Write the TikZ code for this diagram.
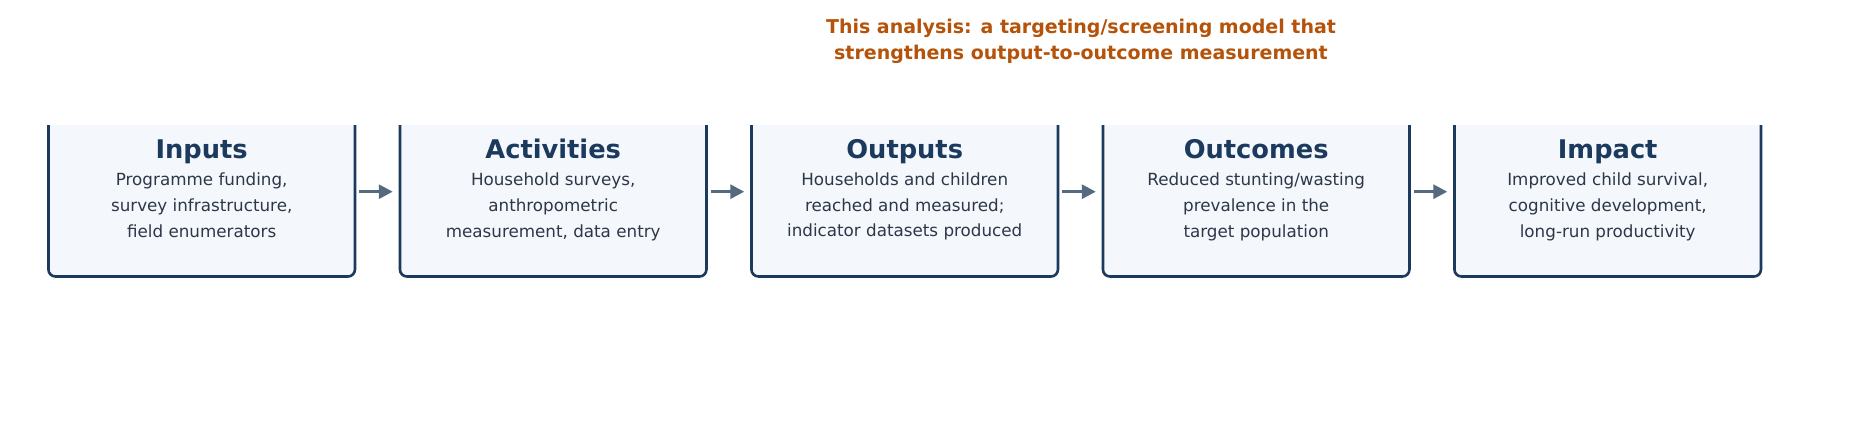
\documentclass[tikz,border=0pt]{standalone}
\usepackage{fontspec}
\setmainfont{DejaVu Sans}
\usetikzlibrary{arrows.meta,calc}
\definecolor{boxfill}{HTML}{F4F7FB}
\definecolor{boxline}{HTML}{1C3A5E}
\definecolor{headc}{HTML}{1C3A5E}
\definecolor{bodyc}{HTML}{2D3748}
\definecolor{arrc}{HTML}{546A80}
\definecolor{titlec}{HTML}{B45309}
\begin{document}
\begin{tikzpicture}[x=1pt,y=-1pt,
 stagebox/.style={draw=boxline, fill=boxfill, line width=2.6pt, rounded corners=7pt,
   minimum width=306.5pt, minimum height=169.6pt, inner sep=0pt, outer sep=0pt},
 headtxt/.style={anchor=base, inner sep=0pt, text=headc, font=\fontsize{25.7}{30}\selectfont\bfseries},
 bodytxt/.style={anchor=base, inner sep=0pt, text=bodyc, font=\fontsize{16.75}{20}\selectfont},
 titletxt/.style={anchor=base, inner sep=0pt, text=titlec, font=\fontsize{19}{23}\selectfont\bfseries},
 flow/.style={draw=arrc, line width=3pt, -{Triangle[length=14pt,width=14pt]}}]
\useasboundingbox[fill=white] (0,0) rectangle (1860,446);

\node[titletxt] (t1) at (1081,33.3) {This analysis: a targeting/screening model that};
\node[titletxt] (t2) at (1081,60) {strengthens output-to-outcome measurement};

\begin{scope}
\clip (0,126) rectangle (1860,446);
\node[stagebox] (b1) at (201.7,191.7) {};
\node[stagebox] (b2) at (553.2,191.7) {};
\node[stagebox] (b3) at (904.7,191.7) {};
\node[stagebox] (b4) at (1256.2,191.7) {};
\node[stagebox] (b5) at (1607.7,191.7) {};
\end{scope}

% Inputs
\node[headtxt] (h1) at ([yshift=118.2pt]b1.south) {Inputs};
\node[bodytxt] (p1a) at ([yshift=90.8pt]b1.south) {Programme funding,};
\node[bodytxt] (p1b) at ([yshift=65pt]b1.south) {survey infrastructure,};
\node[bodytxt] (p1c) at ([yshift=39pt]b1.south) {field enumerators};
% Activities
\node[headtxt] (h2) at ([yshift=118.2pt]b2.south) {Activities};
\node[bodytxt] (p2a) at ([yshift=90.8pt]b2.south) {Household surveys,};
\node[bodytxt] (p2b) at ([yshift=65pt]b2.south) {anthropometric};
\node[bodytxt] (p2c) at ([yshift=39pt]b2.south) {measurement, data entry};
% Outputs
\node[headtxt] (h3) at ([yshift=118.2pt]b3.south) {Outputs};
\node[bodytxt] (p3a) at ([yshift=90.5pt]b3.south) {Households and children};
\node[bodytxt] (p3b) at ([yshift=65pt]b3.south) {reached and measured;};
\node[bodytxt] (p3c) at ([yshift=39.5pt]b3.south) {indicator datasets produced};
% Outcomes
\node[headtxt] (h4) at ([yshift=118.2pt]b4.south) {Outcomes};
\node[bodytxt] (p4a) at ([yshift=90.8pt]b4.south) {Reduced stunting/wasting};
\node[bodytxt] (p4b) at ([yshift=65pt]b4.south) {prevalence in the};
\node[bodytxt] (p4c) at ([yshift=39pt]b4.south) {target population};
% Impact
\node[headtxt] (h5) at ([yshift=118.2pt]b5.south) {Impact};
\node[bodytxt] (p5a) at ([yshift=90.8pt]b5.south) {Improved child survival,};
\node[bodytxt] (p5b) at ([yshift=65pt]b5.south) {cognitive development,};
\node[bodytxt] (p5c) at ([yshift=39pt]b5.south) {long-run productivity};

\draw[flow] ([xshift=4.3pt]b1.east) -- ([xshift=-7.2pt]b2.west);
\draw[flow] ([xshift=4.3pt]b2.east) -- ([xshift=-7.2pt]b3.west);
\draw[flow] ([xshift=4.3pt]b3.east) -- ([xshift=-7.2pt]b4.west);
\draw[flow] ([xshift=4.3pt]b4.east) -- ([xshift=-7.2pt]b5.west);
\end{tikzpicture}
\end{document}
